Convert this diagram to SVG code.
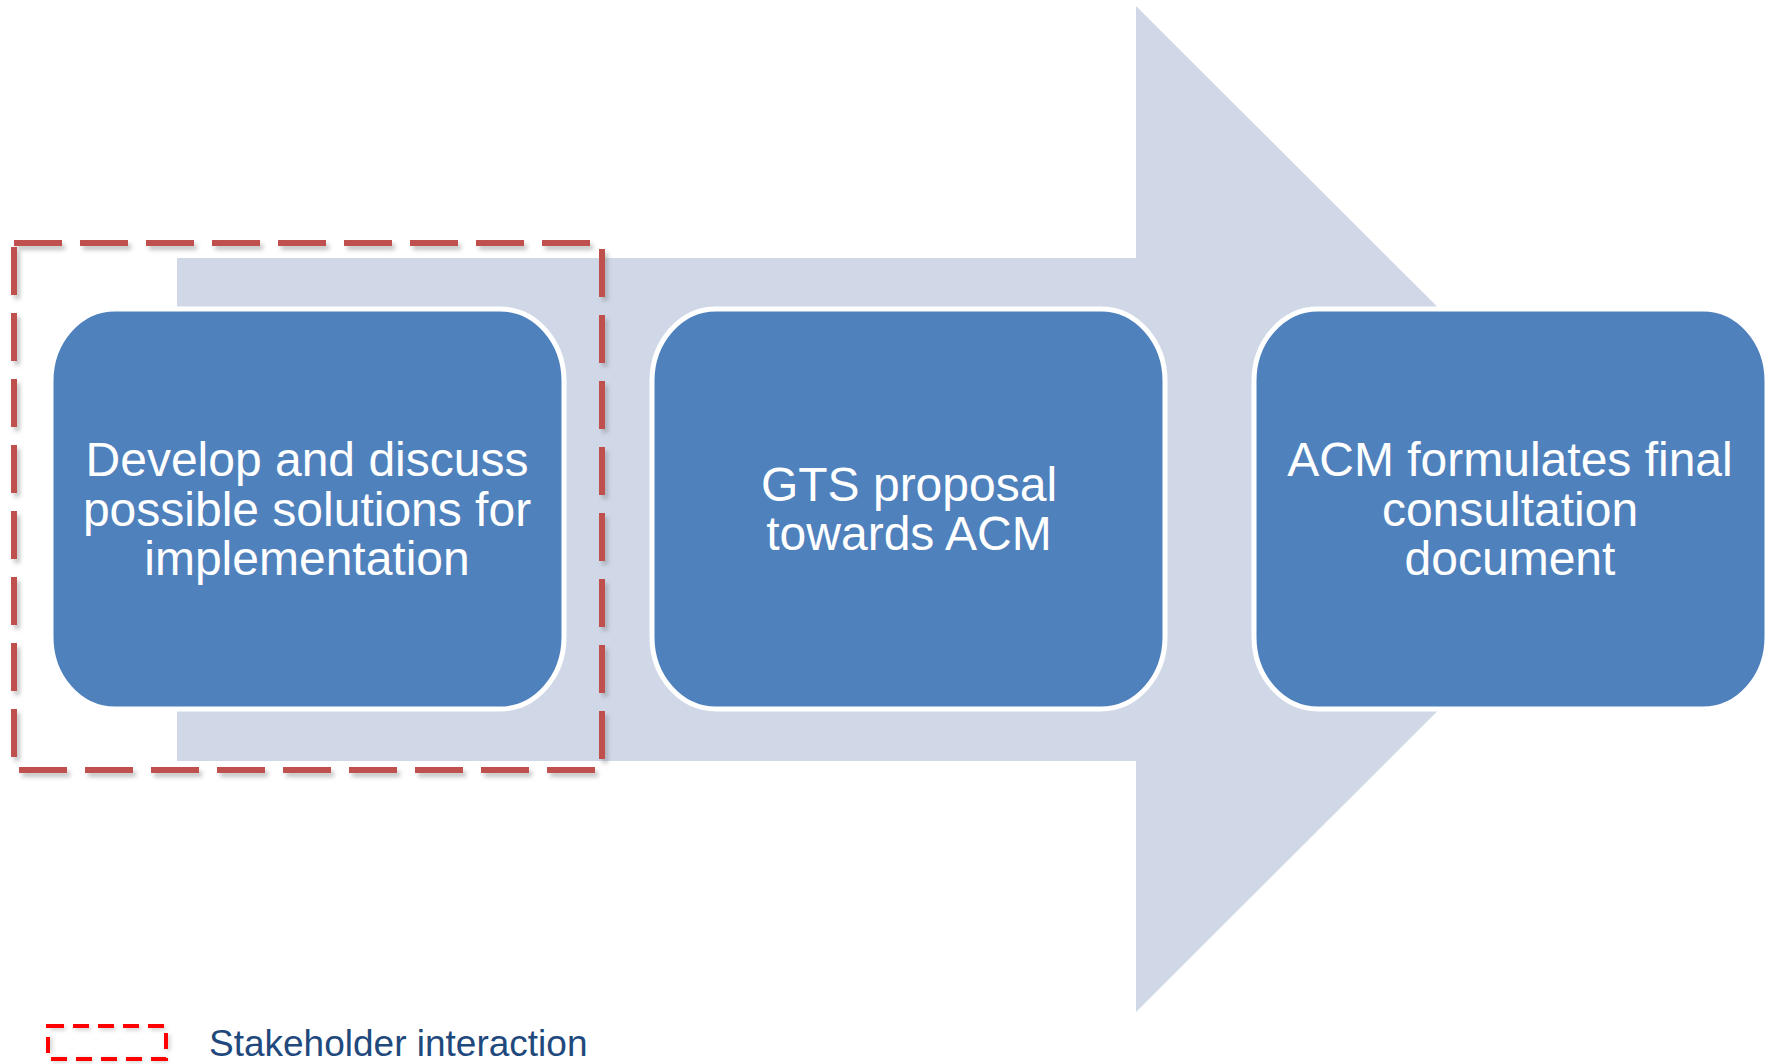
<svg xmlns="http://www.w3.org/2000/svg" width="1773" height="1064" viewBox="0 0 1773 1064">
  <style>
    .box { fill: #4F81BD; stroke: #FFFFFF; stroke-width: 5; }
    .label { font-family: "Liberation Sans", Arial, sans-serif; font-size: 48px; fill: #FFFFFF; text-anchor: middle; }
    .legend-text { font-family: "Liberation Sans", Arial, sans-serif; font-size: 37px; fill: #1F497D; }
    .stake { fill: none; stroke: #C0504D; stroke-width: 6; stroke-dasharray: 48 18; }
    .stake-shadow { fill: none; stroke: #7F7F7F; stroke-opacity: 0.45; stroke-width: 6; stroke-dasharray: 48 18; }
  </style>
  <defs>
    <filter id="blur" x="-10%" y="-10%" width="120%" height="120%">
      <feGaussianBlur stdDeviation="2"/>
    </filter>
  </defs>
  <rect width="1773" height="1064" fill="#FFFFFF"/>

  <g id="flow-arrow">
    <polygon points="177,258 1136,258 1136,6 1640,509 1136,1012 1136,761 177,761" fill="#D0D8E8"/>
  </g>

  <g id="connectors"></g>

  <g id="node-develop">
    <rect class="box" x="51" y="309" width="513" height="400" rx="64" ry="72"/>
    <text class="label" x="307" y="476">Develop and discuss</text>
    <text class="label" x="307" y="526">possible solutions for</text>
    <text class="label" x="307" y="575">implementation</text>
  </g>

  <g id="node-gts">
    <rect class="box" x="652" y="309" width="513" height="400" rx="64" ry="72"/>
    <text class="label" x="909" y="501">GTS proposal</text>
    <text class="label" x="909" y="550">towards ACM</text>
  </g>

  <g id="node-acm">
    <rect class="box" x="1254" y="309" width="513" height="400" rx="64" ry="72"/>
    <text class="label" x="1510" y="476">ACM formulates final</text>
    <text class="label" x="1510" y="526">consultation</text>
    <text class="label" x="1510" y="575">document</text>
  </g>

  <g id="stakeholder-boundary">
    <rect class="stake-shadow" x="17" y="247" width="588" height="527" filter="url(#blur)"/>
    <rect class="stake" x="14" y="243" width="588" height="527"/>
  </g>

  <g id="legend">
    <rect x="50" y="1028" width="118" height="32" fill="none" stroke="#7F7F7F" stroke-opacity="0.4" stroke-width="4" stroke-dasharray="16 9" filter="url(#blur)"/>
    <rect x="48" y="1026" width="118" height="33" fill="none" stroke="#FF0000" stroke-width="4" stroke-dasharray="16 9"/>
    <text class="legend-text" x="209" y="1056">Stakeholder interaction</text>
  </g>
</svg>
